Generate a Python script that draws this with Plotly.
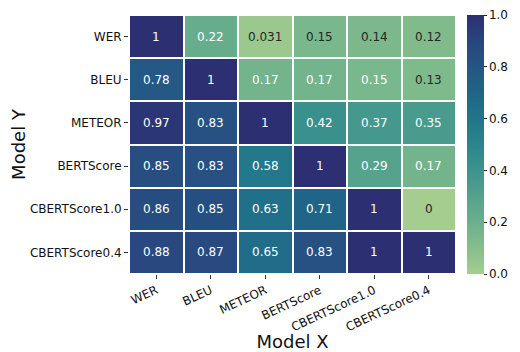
import plotly.graph_objects as go

# --------------------
# Data
# --------------------
metrics = ["WER", "BLEU", "METEOR", "BERTScore", "CBERTScore1.0", "CBERTScore0.4"]

values = [
    [1.00, 0.22, 0.031, 0.15, 0.14, 0.12],
    [0.78, 1.00, 0.17, 0.17, 0.15, 0.13],
    [0.97, 0.83, 1.00, 0.42, 0.37, 0.35],
    [0.85, 0.83, 0.58, 1.00, 0.29, 0.17],
    [0.86, 0.85, 0.63, 0.71, 1.00, 0.00],
    [0.88, 0.87, 0.65, 0.83, 1.00, 1.00],
]

# cells where the annotation is drawn dark instead of white
dark_text = [
    [0, 0, 1, 1, 1, 1],
    [0, 0, 0, 0, 0, 1],
    [0, 0, 0, 0, 0, 0],
    [0, 0, 0, 0, 0, 0],
    [0, 0, 0, 0, 0, 1],
    [0, 0, 0, 0, 0, 0],
]

# approximation of seaborn "crest"
crest = [
    [0.0, "rgb(165,205,144)"],
    [0.1, "rgb(134,190,140)"],
    [0.2, "rgb(108,176,140)"],
    [0.3, "rgb(84,162,141)"],
    [0.4, "rgb(62,147,141)"],
    [0.5, "rgb(44,132,141)"],
    [0.6, "rgb(33,117,139)"],
    [0.7, "rgb(32,101,135)"],
    [0.8, "rgb(36,86,131)"],
    [0.9, "rgb(41,69,126)"],
    [1.0, "rgb(44,48,114)"],
]

font = "DejaVu Sans"

fig = go.Figure()
fig.add_trace(go.Heatmap(
    z=values,
    x=metrics,
    y=metrics,
    zmin=0, zmax=1,
    colorscale=crest,
    xgap=2, ygap=2,
    hoverinfo="skip",
    colorbar=dict(
        x=1.035, xanchor="left", xpad=0,
        y=0.5, yanchor="middle", ypad=0,
        len=1.0, lenmode="fraction",
        thickness=17,
        outlinewidth=0,
        tickvals=[0, 0.2, 0.4, 0.6, 0.8, 1.0],
        ticktext=["0.0", "0.2", "0.4", "0.6", "0.8", "1.0"],
        ticks="outside", ticklen=3, tickwidth=1, tickcolor="#222",
        tickfont=dict(family=font, size=12, color="#111"),
    ),
))

# cell annotations
annotations = []
for i, row in enumerate(values):
    for j, v in enumerate(row):
        annotations.append(dict(
            x=metrics[j], y=metrics[i], xref="x", yref="y",
            text=format(v, ".2g"), showarrow=False,
            font=dict(family=font, size=12,
                      color="#262626" if dark_text[i][j] else "white"),
        ))

# page body adds an 8px offset, so the figure is 512x344
fig.update_layout(
    width=512, height=344,
    margin=dict(l=121, r=64, t=7, b=78, autoexpand=False),
    paper_bgcolor="white", plot_bgcolor="white",
    font=dict(family=font, color="#111"),
    annotations=annotations,
    xaxis=dict(
        title=dict(text="Model X", font=dict(family=font, size=18), standoff=4),
        tickangle=-25,
        tickfont=dict(family=font, size=12),
        ticks="outside", ticklen=4, tickcolor="#333",
        showgrid=False, zeroline=False,
    ),
    yaxis=dict(
        title=dict(text="Model Y", font=dict(family=font, size=18), standoff=6),
        autorange="reversed",
        tickfont=dict(family=font, size=12),
        ticks="outside", ticklen=4, tickcolor="#333",
        showgrid=False, zeroline=False,
    ),
)

fig.write_html("out.html")
